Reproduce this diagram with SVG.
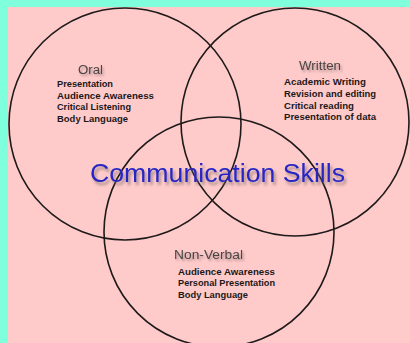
<svg xmlns="http://www.w3.org/2000/svg" width="410" height="343" viewBox="0 0 410 343">
<style>
.ring{fill:none;stroke:#1e1a1a;stroke-width:1.6}
.head{font-family:"Liberation Sans",Arial,sans-serif;font-size:12.5px;fill:#4a4444;filter:url(#sh)}
.item{font-family:"Liberation Sans",Arial,sans-serif;font-size:9.6px;font-weight:bold;fill:#1c1818}
.title{font-family:"Liberation Sans",Arial,sans-serif;font-size:25.5px;fill:#2626c4;filter:url(#sh2)}
</style>
<defs>
<filter id="sh" x="-20%" y="-50%" width="150%" height="200%">
<feDropShadow dx="1.5" dy="2" stdDeviation="1.2" flood-color="#806868" flood-opacity="0.6"/>
</filter>
<filter id="sh2" x="-10%" y="-50%" width="130%" height="200%">
<feDropShadow dx="2" dy="3" stdDeviation="1.5" flood-color="#706060" flood-opacity="0.65"/>
</filter>
</defs>
<rect x="0" y="0" width="410" height="343" fill="#7fffdc"/>
<rect x="8" y="7" width="402" height="336" fill="#ffcaca"/>
<g id="oral">
<circle class="ring" cx="125" cy="124" r="116"/>
<text class="head" x="78" y="74" textLength="25" lengthAdjust="spacingAndGlyphs">Oral</text>
<text class="item" x="57" y="87" textLength="56" lengthAdjust="spacingAndGlyphs">Presentation</text>
<text class="item" x="57" y="98.5" textLength="97" lengthAdjust="spacingAndGlyphs">Audience Awareness</text>
<text class="item" x="57" y="110" textLength="74" lengthAdjust="spacingAndGlyphs">Critical Listening</text>
<text class="item" x="57" y="121.5" textLength="71" lengthAdjust="spacingAndGlyphs">Body Language</text>
</g>
<g id="written">
<circle class="ring" cx="295" cy="122" r="114"/>
<text class="head" x="299" y="69.5" textLength="42" lengthAdjust="spacingAndGlyphs">Written</text>
<text class="item" x="284" y="85" textLength="82" lengthAdjust="spacingAndGlyphs">Academic Writing</text>
<text class="item" x="284" y="97" textLength="92" lengthAdjust="spacingAndGlyphs">Revision and editing</text>
<text class="item" x="284" y="108.5" textLength="70" lengthAdjust="spacingAndGlyphs">Critical reading</text>
<text class="item" x="284" y="120" textLength="92" lengthAdjust="spacingAndGlyphs">Presentation of data</text>
</g>
<g id="nonverbal">
<circle class="ring" cx="219" cy="232" r="115"/>
<text class="head" x="174" y="259" textLength="69" lengthAdjust="spacingAndGlyphs">Non-Verbal</text>
<text class="item" x="178" y="274.5" textLength="97" lengthAdjust="spacingAndGlyphs">Audience Awareness</text>
<text class="item" x="178" y="286" textLength="97" lengthAdjust="spacingAndGlyphs">Personal Presentation</text>
<text class="item" x="178" y="297.5" textLength="70" lengthAdjust="spacingAndGlyphs">Body Language</text>
</g>
<g id="connectors"/>
<g id="center">
<text class="title" x="90" y="182" textLength="255" lengthAdjust="spacingAndGlyphs">Communication Skills</text>
</g>
</svg>
